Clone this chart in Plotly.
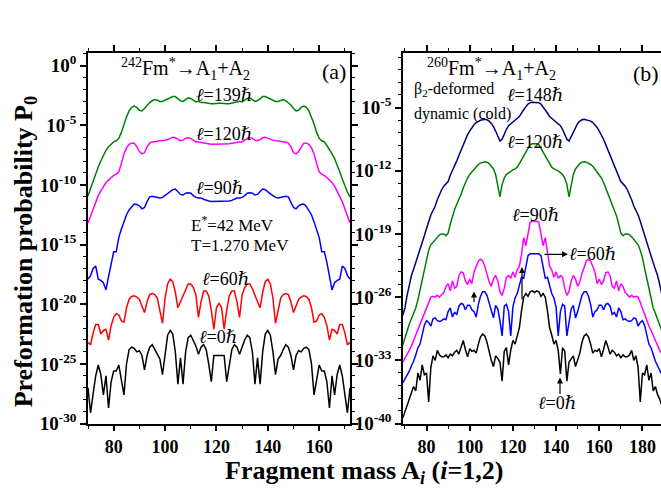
import plotly.graph_objects as go

W, H = 661, 502
FONT = "Liberation Serif, DejaVu Serif, Times New Roman, serif"

# ---------------- data (log10 of P0) ----------------
# panel (a): 242Fm*, fragment mass 70..172
mass_a = list(range(70, 173))
logP_a_l139 = [-10.9,-10.3,-9.6,-9.0,-8.5,-8.0,-7.5,-7.1,-6.8,-6.6,
    -6.4,-6.3,-6.1,-5.6,-4.9,-4.3,-3.8,-3.5,-3.4,-3.5,
    -3.75,-3.8,-3.6,-3.3,-3.1,-2.95,-2.85,-2.9,-3.0,-3.0,
    -2.9,-2.8,-2.7,-2.6,-2.6,-2.75,-2.95,-3.0,-2.85,-2.7,
    -2.75,-2.9,-3.05,-3.0,-3.1,-3.1,-3.15,-3.2,-3.2,-3.2,
    -3.15,-3.15,-3.15,-3.2,-3.2,-3.2,-3.15,-3.1,-3.1,-3.0,
    -3.05,-2.9,-2.75,-2.7,-2.85,-3.0,-2.95,-2.75,-2.6,-2.6,
    -2.7,-2.8,-2.9,-3.0,-3.0,-2.9,-2.85,-2.95,-3.1,-3.3,
    -3.6,-3.8,-3.75,-3.5,-3.4,-3.5,-3.8,-4.3,-4.9,-5.6,
    -6.1,-6.3,-6.4,-6.7,-7.0,-7.4,-7.8,-8.3,-8.9,-9.5,
    -10.1,-10.6,-11.0]
logP_a_l120 = [-13.2,-12.6,-12.0,-11.4,-10.9,-10.5,-10.1,-9.8,-9.6,-9.4,
    -9.2,-9.1,-8.9,-8.2,-7.4,-6.9,-6.6,-6.5,-6.5,-6.8,
    -7.2,-7.4,-7.3,-6.8,-6.5,-6.4,-6.4,-6.35,-6.3,-6.3,
    -6.25,-6.2,-6.1,-6.0,-6.05,-6.2,-6.3,-6.25,-6.1,-6.05,
    -6.1,-6.25,-6.4,-6.4,-6.45,-6.5,-6.5,-6.55,-6.6,-6.6,
    -6.6,-6.6,-6.6,-6.6,-6.6,-6.55,-6.5,-6.5,-6.45,-6.4,
    -6.4,-6.25,-6.1,-6.05,-6.1,-6.25,-6.3,-6.2,-6.05,-6.0,
    -6.1,-6.2,-6.25,-6.3,-6.3,-6.35,-6.4,-6.4,-6.5,-6.8,
    -7.3,-7.4,-7.2,-6.8,-6.5,-6.5,-6.6,-6.9,-7.4,-8.2,
    -8.9,-9.1,-9.2,-9.4,-9.6,-9.8,-10.1,-10.5,-10.9,-11.4,
    -12.0,-12.6,-13.2]
logP_a_l90 = [-17.9,-17.6,-17.0,-16.8,-17.9,-18.0,-18.2,-18.8,-17.7,-16.5,
    -15.6,-15.6,-14.4,-13.7,-13.1,-12.5,-12.1,-11.8,-11.6,-11.65,
    -11.75,-12.0,-11.9,-11.4,-11.0,-10.95,-11.0,-11.05,-11.1,-11.05,
    -10.9,-10.75,-10.6,-10.4,-10.35,-10.55,-10.8,-10.85,-10.7,-10.65,
    -10.7,-10.9,-11.05,-11.1,-11.1,-11.2,-11.3,-11.35,-11.4,-11.4,
    -11.4,-11.4,-11.4,-11.4,-11.4,-11.35,-11.3,-11.2,-11.1,-11.1,
    -11.05,-10.9,-10.7,-10.65,-10.7,-10.85,-10.8,-10.55,-10.35,-10.4,
    -10.6,-10.75,-10.9,-11.05,-11.1,-11.05,-11.0,-10.95,-11.0,-11.4,
    -11.9,-12.0,-11.75,-11.65,-11.6,-11.8,-12.1,-12.5,-13.1,-13.7,
    -14.4,-15.6,-15.6,-16.5,-17.7,-18.8,-18.2,-18.0,-17.9,-16.8,
    -17.0,-17.6,-17.9]
logP_a_l60 = [-23.2,-23.4,-22.4,-21.7,-21.7,-22.5,-22.2,-22.1,-23.0,-21.8,
    -21.1,-20.8,-20.9,-21.4,-21.5,-20.3,-19.6,-19.35,-19.3,-19.4,
    -19.6,-20.1,-20.7,-19.8,-19.2,-19.1,-19.2,-19.5,-20.6,-21.6,
    -19.5,-18.3,-17.9,-18.1,-19.0,-20.3,-19.8,-19.3,-18.7,-18.3,
    -18.3,-18.6,-19.2,-21.1,-19.8,-18.9,-18.9,-19.3,-20.5,-22.1,
    -20.3,-19.9,-20.3,-22.1,-20.5,-19.3,-18.9,-18.9,-19.8,-21.1,
    -19.2,-18.6,-18.3,-18.3,-18.7,-19.3,-19.8,-20.3,-19.0,-18.1,
    -17.9,-18.3,-19.5,-21.6,-20.6,-19.5,-19.2,-19.1,-19.2,-19.8,
    -20.7,-20.1,-19.6,-19.4,-19.3,-19.35,-19.6,-20.3,-21.5,-21.4,
    -20.9,-20.8,-21.1,-21.8,-23.0,-22.1,-22.2,-22.5,-21.7,-21.7,
    -22.4,-23.4,-23.2]
logP_a_l0 = [-27.0,-29.1,-27.5,-26.0,-25.1,-25.9,-27.6,-26.0,-28.7,-26.5,
    -25.6,-25.6,-25.1,-26.2,-27.6,-25.0,-23.8,-23.6,-23.7,-24.0,
    -23.9,-24.3,-25.5,-24.3,-23.6,-23.4,-23.8,-24.3,-24.6,-25.9,
    -24.0,-22.6,-22.2,-22.5,-24.0,-26.7,-24.5,-26.7,-24.0,-22.8,
    -22.6,-23.0,-23.5,-24.2,-23.6,-23.4,-23.8,-25.0,-26.5,-24.3,
    -24.3,-24.3,-24.3,-24.3,-26.5,-25.0,-23.8,-23.4,-23.6,-24.2,
    -23.5,-23.0,-22.6,-22.8,-24.0,-26.7,-24.5,-26.7,-24.0,-22.5,
    -22.2,-22.6,-24.0,-25.9,-24.6,-24.3,-23.8,-23.4,-23.6,-24.3,
    -25.5,-24.3,-23.9,-24.0,-23.7,-23.6,-23.8,-25.0,-27.6,-26.2,
    -25.1,-25.6,-25.6,-26.5,-28.7,-26.0,-27.6,-25.9,-25.1,-26.0,
    -27.5,-29.1,-27.0]

# panel (b): 260Fm*, fragment mass 69..191
mass_b = list(range(69, 192))
logP_b_l148 = [-28.0,-27.2,-25.8,-24.6,-23.6,-22.9,-22.2,-21.4,-20.7,-20.0,
    -19.2,-18.4,-17.6,-16.9,-16.4,-15.9,-15.2,-14.6,-14.1,-13.7,
    -13.45,-13.2,-12.5,-12.0,-11.5,-10.9,-10.3,-9.7,-9.1,-8.5,
    -8.0,-7.6,-7.2,-6.9,-6.65,-6.5,-6.4,-6.35,-6.3,-6.35,
    -6.5,-6.75,-7.1,-7.6,-8.2,-8.7,-8.5,-7.9,-7.4,-7.0,
    -6.8,-6.6,-6.4,-6.2,-6.0,-5.6,-5.2,-4.9,-4.6,-4.45,
    -4.4,-4.4,-4.4,-4.45,-4.6,-4.9,-5.2,-5.6,-6.0,-6.2,
    -6.4,-6.6,-6.8,-7.0,-7.4,-7.9,-8.5,-8.7,-8.2,-7.6,
    -7.1,-6.75,-6.5,-6.35,-6.3,-6.35,-6.4,-6.5,-6.65,-6.9,
    -7.2,-7.6,-8.0,-8.5,-9.1,-9.7,-10.3,-10.9,-11.5,-12.0,
    -12.5,-13.2,-13.45,-13.7,-14.1,-14.6,-15.2,-15.9,-16.4,-16.9,
    -17.6,-18.4,-19.2,-20.0,-20.7,-21.4,-22.2,-22.9,-23.6,-24.6,
    -25.8,-27.2,-28.0]
logP_b_l120 = [-31.3,-30.5,-29.7,-29.0,-28.4,-27.8,-27.2,-26.3,-25.2,-24.0,
    -22.8,-21.6,-20.8,-20.2,-19.9,-19.6,-19.3,-19.1,-19.0,-19.0,
    -19.2,-18.9,-17.9,-17.0,-16.3,-15.7,-15.2,-14.6,-13.9,-13.3,
    -12.8,-12.4,-12.1,-11.8,-11.5,-11.3,-11.15,-11.05,-11.0,-11.05,
    -11.2,-11.5,-11.8,-12.4,-13.5,-14.9,-13.5,-12.8,-12.4,-12.2,
    -12.0,-11.9,-11.8,-11.6,-11.2,-10.8,-10.4,-9.9,-9.5,-9.1,
    -9.0,-9.0,-9.0,-9.1,-9.5,-9.9,-10.4,-10.8,-11.2,-11.6,
    -11.8,-11.9,-12.0,-12.2,-12.4,-12.8,-13.5,-14.9,-13.5,-12.4,
    -11.8,-11.5,-11.2,-11.05,-11.0,-11.05,-11.15,-11.3,-11.5,-11.8,
    -12.1,-12.4,-12.8,-13.3,-13.9,-14.6,-15.2,-15.7,-16.3,-17.0,
    -17.9,-18.9,-19.2,-19.0,-19.0,-19.1,-19.3,-19.6,-19.9,-20.2,
    -20.8,-21.6,-22.8,-24.0,-25.2,-26.3,-27.2,-27.8,-28.4,-29.0,
    -29.7,-30.5,-31.3]
logP_b_l90 = [-33.2,-32.8,-32.3,-31.9,-31.4,-30.8,-30.3,-29.7,-29.2,-28.5,
    -27.8,-27.3,-26.6,-26.0,-25.9,-26.0,-25.8,-26.0,-25.7,-25.5,
    -24.8,-24.5,-25.3,-24.2,-25.0,-24.8,-23.6,-23.2,-23.3,-24.2,
    -24.6,-24.0,-24.5,-23.2,-22.6,-22.0,-21.8,-22.0,-22.6,-23.4,
    -24.3,-24.8,-24.0,-23.6,-24.2,-25.4,-25.8,-25.0,-23.8,-23.6,
    -23.9,-23.2,-23.8,-23.0,-22.6,-21.3,-19.4,-20.3,-18.9,-17.7,
    -17.6,-17.6,-17.6,-17.7,-18.9,-20.3,-19.4,-21.3,-22.6,-23.0,
    -23.8,-23.2,-23.9,-23.6,-23.8,-25.0,-25.8,-25.4,-24.2,-23.6,
    -24.0,-24.8,-24.3,-23.4,-22.6,-22.0,-21.8,-22.0,-22.6,-23.2,
    -24.5,-24.0,-24.6,-24.2,-23.3,-23.2,-23.6,-24.8,-25.0,-24.2,
    -25.3,-24.5,-24.8,-25.5,-25.7,-26.0,-25.8,-26.0,-25.9,-26.0,
    -26.6,-27.3,-27.8,-28.5,-29.2,-29.7,-30.3,-30.8,-31.4,-31.9,
    -32.3,-32.8,-33.2]
logP_b_l60 = [-35.5,-35.1,-34.6,-34.2,-33.6,-33.1,-32.4,-31.6,-31.2,-30.0,
    -29.1,-28.6,-28.8,-29.2,-28.4,-28.3,-28.6,-28.7,-28.6,-28.4,
    -28.5,-27.6,-27.2,-28.2,-27.7,-27.9,-27.0,-26.7,-26.8,-27.4,
    -26.9,-26.9,-27.4,-27.6,-28.2,-26.8,-25.9,-25.4,-25.4,-25.8,
    -26.7,-27.6,-28.3,-26.9,-27.3,-28.6,-30.3,-27.0,-26.8,-27.6,
    -30.3,-27.1,-26.1,-25.6,-24.8,-23.8,-23.9,-22.5,-21.4,-21.2,
    -21.2,-21.2,-21.2,-21.2,-21.4,-22.5,-23.9,-23.8,-24.8,-25.6,
    -26.1,-27.1,-30.3,-27.6,-26.8,-27.0,-30.3,-28.6,-27.3,-26.9,
    -28.3,-27.6,-26.7,-25.8,-25.4,-25.4,-25.9,-26.8,-28.2,-27.6,
    -27.4,-26.9,-26.9,-27.4,-26.8,-26.7,-27.0,-27.9,-27.7,-28.2,
    -27.2,-27.6,-28.5,-28.4,-28.6,-28.7,-28.6,-28.3,-28.4,-29.2,
    -28.8,-28.6,-29.1,-30.0,-31.2,-31.6,-32.4,-33.1,-33.6,-34.2,
    -34.6,-35.1,-35.5]
logP_b_l0 = [-39.4,-38.7,-38.0,-37.3,-36.8,-35.9,-36.4,-34.4,-35.2,-33.5,
    -34.6,-34.4,-37.6,-33.8,-32.5,-33.0,-31.9,-32.4,-32.6,-32.6,
    -32.4,-32.7,-32.3,-32.5,-32.1,-31.9,-32.3,-31.5,-30.8,-31.8,
    -32.6,-31.7,-32.0,-31.9,-32.2,-31.2,-30.4,-30.1,-30.3,-31.0,
    -32.2,-33.0,-33.7,-32.5,-32.8,-33.2,-35.3,-32.0,-31.6,-33.5,
    -31.9,-30.8,-31.2,-30.2,-29.4,-27.5,-26.0,-25.6,-25.9,-25.4,
    -25.3,-25.5,-25.3,-25.4,-25.9,-25.6,-26.0,-27.5,-29.4,-30.2,
    -31.2,-30.8,-31.9,-34.5,-31.6,-32.0,-35.3,-33.2,-32.8,-32.5,
    -33.7,-33.0,-32.2,-31.0,-30.3,-30.1,-30.4,-31.2,-32.2,-31.9,
    -32.0,-31.7,-32.6,-31.8,-30.8,-31.5,-32.3,-31.9,-32.1,-32.5,
    -32.3,-32.7,-32.4,-32.6,-32.6,-32.4,-31.9,-33.0,-32.5,-33.8,
    -37.6,-34.4,-34.6,-33.5,-35.2,-34.4,-36.4,-35.9,-36.8,-37.3,
    -38.0,-38.7,-39.4]

series_a = [(logP_a_l139, "#008000"), (logP_a_l120, "#FF00FF"),
            (logP_a_l90, "#0000FF"), (logP_a_l60, "#FF0000"),
            (logP_a_l0, "#000000")]
series_b = [(logP_b_l148, "#000080"), (logP_b_l120, "#008000"),
            (logP_b_l90, "#FF00FF"), (logP_b_l60, "#0000FF"),
            (logP_b_l0, "#000000")]

fig = go.Figure()
for logp, col in series_a:
    fig.add_trace(go.Scatter(x=mass_a, y=[10.0 ** v for v in logp], mode="lines",
                             line=dict(color=col, width=1.5), xaxis="x", yaxis="y",
                             showlegend=False, hoverinfo="skip"))
for logp, col in series_b:
    fig.add_trace(go.Scatter(x=mass_b, y=[10.0 ** v for v in logp], mode="lines",
                             line=dict(color=col, width=1.5), xaxis="x2", yaxis="y2",
                             showlegend=False, hoverinfo="skip"))

xtickfont = dict(family=FONT, size=18, color="black", weight="bold")
ytickfont = dict(family=FONT, size=19, color="black", weight="bold")
common = dict(showline=True, linecolor="black", linewidth=1.5, ticks="outside",
              ticklen=6, tickwidth=1.5, tickcolor="black", showgrid=False,
              zeroline=False)

def minor(vals):
    return dict(tickmode="array", tickvals=vals, ticks="outside", ticklen=3.5,
                tickwidth=1.2, tickcolor="black", showgrid=False)

ydom = [1 - 433 / H, 1 - 54 / H]
ya_major = [0, -5, -10, -15, -20, -25, -30]
ya_minor = [k for k in range(-29, 2) if k % 5 != 0]
yb_major = [-5, -12, -19, -26, -33, -40]
yb_minor = [round(-40 + 1.4 * k, 2) for k in range(1, 30) if k % 5 != 0]

fig.update_layout(
    width=W, height=H, margin=dict(l=0, r=0, t=0, b=0),
    paper_bgcolor="white", plot_bgcolor="white",
    xaxis=dict(common, tickfont=xtickfont, domain=[88 / W, 350 / W], range=[70, 172],
               mirror="ticks", tickmode="array", tickvals=[80, 100, 120, 140, 160],
               minor=minor([70, 90, 110, 130, 150, 170]), anchor="y"),
    yaxis=dict(common, tickfont=ytickfont, domain=ydom, type="log", range=[-30, 1.07],
               mirror="ticks", tickmode="array", tickvals=[10.0 ** k for k in ya_major],
               ticktext=["10<sup>%d</sup>" % k for k in ya_major],
               minor=minor([10.0 ** k for k in ya_minor]), anchor="x"),
    xaxis2=dict(common, tickfont=xtickfont, domain=[403 / W, 1.0], range=[69.1, 188.6],
                mirror="ticks", tickmode="array", tickvals=[80, 100, 120, 140, 160, 180],
                minor=minor([70, 90, 110, 130, 150, 170]), anchor="y2"),
    yaxis2=dict(common, tickfont=ytickfont, domain=ydom, type="log", range=[-40, 1.07],
                mirror=False, tickmode="array", tickvals=[10.0 ** k for k in yb_major],
                ticktext=["10<sup>%d</sup>" % k for k in yb_major],
                minor=minor([10.0 ** k for k in yb_minor]), anchor="x2"),
)

def txt(px, py, text, size, xanchor="center", bold=False):
    return dict(x=px / W, y=1 - py / H, xref="paper", yref="paper", text=text,
                showarrow=False, xanchor=xanchor, yanchor="middle", borderpad=0,
                font=dict(family=FONT, size=size, color="black",
                          weight="bold" if bold else "normal"))

def arrow(hx, hy, tx, ty):
    return dict(x=hx / W, y=1 - hy / H, xref="paper", yref="paper", text="",
                showarrow=True, ax=tx - hx, ay=ty - hy, axref="pixel", ayref="pixel",
                arrowhead=2, arrowsize=1, arrowwidth=1.2, arrowcolor="black")

L = "<i>\u2113</i>="
HB = "<i>\u210f</i>"
ann = [
    txt(185, 71, "<sup>242</sup>Fm<sup>*</sup>\u2192A<sub>1</sub>+A<sub>2</sub>", 20),
    txt(334, 73, "(a)", 22),
    txt(224, 97, L + "139" + HB, 18),
    txt(224, 137, L + "120" + HB, 18),
    txt(219, 192, L + "90" + HB, 18),
    txt(190, 229, "E<sup>*</sup>=42 MeV", 17, "left"),
    txt(190, 251, "T=1.270 MeV", 17, "left"),
    txt(225, 285, L + "60" + HB, 18),
    txt(218, 345, L + "0" + HB, 18),
    txt(491, 71, "<sup>260</sup>Fm<sup>*</sup>\u2192A<sub>1</sub>+A<sub>2</sub>", 20),
    txt(660, 75, "(b)", 22, "right"),
    txt(413, 92, "\u03b2<sub>2</sub>-deformed", 16, "left"),
    txt(413, 117, "dynamic (cold)", 16, "left"),
    txt(535, 97, L + "148" + HB, 18),
    txt(535, 145, L + "120" + HB, 18),
    txt(535, 220, L + "90" + HB, 18),
    txt(568, 260, L + "60" + HB, 18, "left"),
    txt(557, 412, L + "0" + HB, 18),
    arrow(568, 260, 543, 260),
    arrow(522, 273, 522, 307),
    arrow(474, 298, 474, 310),
    arrow(560, 386, 560, 404),
    txt(364, 483, "Fragment mass A<sub><i>i</i></sub> (<i>i</i>=1,2)", 26, bold=True),
    dict(x=25 / W, y=1 - 258 / H, xref="paper", yref="paper",
         text="Preformation probability P<sub>0</sub>", showarrow=False,
         textangle=-90, xanchor="center", yanchor="middle",
         font=dict(family=FONT, size=26, color="black", weight="bold")),
]
fig.update_layout(annotations=ann)
fig.write_html("out.html", config={"displayModeBar": False},
               post_script="document.body.style.margin='0px';document.body.style.padding='0px';")
